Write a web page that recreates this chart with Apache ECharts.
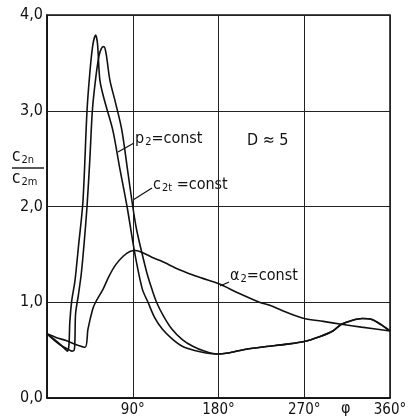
<!DOCTYPE html>
<html>
<head>
<meta charset="utf-8">
<script src="https://cdn.jsdelivr.net/npm/echarts@6/dist/echarts.min.js"></script>
<style>
  html, body { margin: 0; padding: 0; background: #fff; }
  #chart { width: 412px; height: 418px; }
</style>
</head>
<body>
<div id="chart"></div>
<script>
// values, [phi in degrees, c2n/c2m]
const p2Const = [[0,0.67],[8,0.61],[15,0.55],[19,0.51],[21.5,0.49],[23,0.55],[24,0.8],[26,1.02],[29.3,1.22],[33,1.58],[37.7,2.05],[42,3.0],[45,3.4],[48,3.68],[51,3.79],[53,3.7],[55.5,3.32],[60,3.12],[69,2.8],[76,2.42],[84,2.0],[92,1.52],[100,1.14],[106,1.0],[113,0.84],[121,0.72],[131,0.62],[142,0.54],[155,0.495],[167,0.47],[178,0.46],[190,0.47],[209,0.51],[233,0.54],[250,0.56],[270,0.59],[286,0.64],[300,0.7],[309,0.77],[320,0.81],[331,0.83],[341,0.82],[350,0.77],[360,0.70]];
const c2tConst = [[0,0.67],[8,0.6],[16,0.54],[22,0.51],[26,0.49],[28.5,0.5],[29.3,0.6],[30,0.88],[33,1.08],[36,1.3],[39,1.62],[42,2.0],[45,2.5],[47.6,3.0],[51,3.33],[54.5,3.57],[57,3.65],[59.7,3.67],[62,3.6],[66,3.32],[72,3.08],[78.5,2.8],[85,2.35],[90,2.0],[94,1.76],[99.5,1.52],[105,1.3],[110,1.14],[115,1.0],[122,0.86],[131,0.72],[142,0.61],[153,0.54],[165,0.49],[178,0.46],[190,0.47],[209,0.51],[233,0.54],[250,0.56],[270,0.59],[286,0.64],[300,0.7],[309,0.77],[320,0.81],[331,0.83],[341,0.82],[350,0.77],[360,0.70]];
const a2Const = [[0,0.67],[10,0.63],[20,0.6],[30,0.56],[40,0.53],[43,0.72],[48,0.93],[51,1.0],[59,1.14],[65,1.27],[72,1.39],[80,1.48],[87,1.53],[93,1.54],[100,1.52],[110,1.47],[120,1.43],[139,1.34],[160,1.26],[181,1.19],[200,1.1],[223,1.0],[233,0.97],[250,0.9],[270,0.83],[290,0.8],[309,0.77],[330,0.74],[360,0.70]];

const xTicks = { 90: '90°', 180: '180°', 270: '270°', 360: '360°' };
const yTicks = ['0,0', '1,0', '2,0', '3,0', '4,0'];

const font = "'DejaVu Sans Condensed', 'Liberation Sans Narrow', sans-serif";
const sub = { fontSize: 11, fontFamily: font, fill: '#111', padding: [7, 0, 0, 1] };

function curve(name, data) {
  return {
    name: name,
    type: 'line',
    data: data,
    smooth: 0.3,
    symbol: 'none',
    lineStyle: { color: '#111', width: 1.6 }
  };
}

const chart = echarts.init(document.getElementById('chart'));
chart.setOption({
  animation: false,
  backgroundColor: '#fff',
  grid: { left: 47, right: 22, top: 15, bottom: 19, show: true, borderColor: '#111', borderWidth: 1.5 },
  xAxis: {
    type: 'value', min: 0, max: 360, interval: 90,
    axisLine: { lineStyle: { color: '#111', width: 1.5 } },
    axisTick: { show: false },
    splitLine: { lineStyle: { color: '#222', width: 1 } },
    axisLabel: {
      color: '#111', fontSize: 15, fontFamily: font, margin: 5,
      formatter: v => xTicks[v] || ''
    }
  },
  yAxis: {
    type: 'value', min: 0, max: 4, interval: 1,
    axisLine: { lineStyle: { color: '#111', width: 1.5 } },
    axisTick: { show: false },
    splitLine: { lineStyle: { color: '#222', width: 1 } },
    axisLabel: {
      color: '#111', fontSize: 16, fontFamily: font, margin: 4,
      formatter: v => yTicks[v]
    }
  },
  series: [
    curve('p2=const', p2Const),
    curve('c2t=const', c2tConst),
    curve('a2=const', a2Const)
  ],
  graphic: [
    // axis title c2n / c2m
    { type: 'text', left: 12, top: 148, style: { text: 'c{s|2n}', fontSize: 17, fontFamily: font, fill: '#111', rich: { s: sub } } },
    { type: 'line', shape: { x1: 12, y1: 168, x2: 44, y2: 168 }, style: { stroke: '#111', lineWidth: 1.4 } },
    { type: 'text', left: 12, top: 170, style: { text: 'c{s|2m}', fontSize: 17, fontFamily: font, fill: '#111', rich: { s: sub } } },
    // curve labels
    { type: 'text', left: 135, top: 131, style: { text: 'p{s|2}=const', fontSize: 16, fontFamily: font, fill: '#111', rich: { s: sub } } },
    { type: 'line', shape: { x1: 134, y1: 143, x2: 118, y2: 152 }, style: { stroke: '#111', lineWidth: 1.2 } },
    { type: 'text', left: 153, top: 177, style: { text: 'c{s|2t} =const', fontSize: 16, fontFamily: font, fill: '#111', rich: { s: sub } } },
    { type: 'line', shape: { x1: 152, y1: 188, x2: 133, y2: 200 }, style: { stroke: '#111', lineWidth: 1.2 } },
    { type: 'text', left: 230, top: 268, style: { text: 'α{s|2}=const', fontSize: 16, fontFamily: font, fill: '#111', rich: { s: sub } } },
    { type: 'line', shape: { x1: 229, y1: 282, x2: 220, y2: 286 }, style: { stroke: '#111', lineWidth: 1.2 } },
    { type: 'text', left: 247, top: 133, style: { text: 'D ≈ 5', fontSize: 16, fontFamily: font, fill: '#111' } },
    { type: 'text', left: 341, top: 401, style: { text: 'φ', fontSize: 16, fontFamily: font, fill: '#111' } }
  ]
});
</script>
</body>
</html>
